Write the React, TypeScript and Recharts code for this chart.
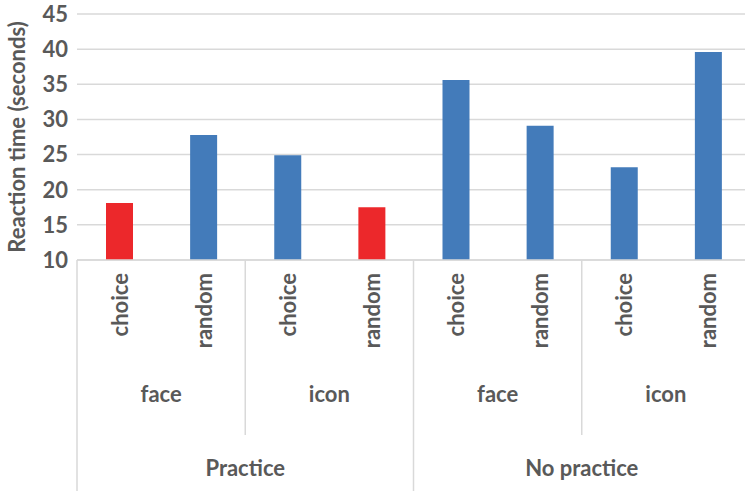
import { BarChart, Bar, XAxis, YAxis, CartesianGrid, Cell } from "recharts";

// bar order: practice/no practice -> face/icon -> choice/random
const conditions = ["choice", "random", "choice", "random", "choice", "random", "choice", "random"];
const stimuli = ["face", "icon", "face", "icon"];
const phases = ["Practice", "No practice"];
const reactionTimes = [18.1, 27.8, 24.9, 17.5, 35.6, 29.1, 23.2, 39.6];
const highlighted = [true, false, false, true, false, false, false, false];
const yTicks = [10, 15, 20, 25, 30, 35, 40, 45];

const data = reactionTimes.map((value, i) => ({ name: `${i}`, value, condition: conditions[i] }));

const TEXT = "#595959";
const LINE = "#d9d9d9";
const FONT = "Lato, 'Open Sans', sans-serif";

function GroupedTick(props: any) {
  const { x, y, payload } = props;
  const i: number = payload.index;
  const half: number = payload.offset ?? 42;
  const left = x - half;
  const bottom = 491;
  const textStyle = { fontFamily: FONT, fontWeight: 700, fontSize: 22, fill: TEXT };
  return (
    <g>
      <text
        x={x}
        y={y + 13}
        transform={`rotate(-90, ${x}, ${y + 13})`}
        textAnchor="end"
        dominantBaseline="central"
        style={textStyle}
      >
        {conditions[i]}
      </text>
      {i % 2 === 0 && (
        <>
          <line x1={left} x2={left} y1={y} y2={i % 4 === 0 ? bottom : y + 175} stroke={LINE} strokeWidth={1.5} />
          <text x={x + half} y={y + 142} textAnchor="middle" style={textStyle}>
            {stimuli[i / 2]}
          </text>
        </>
      )}
      {i % 4 === 0 && (
        <text x={x + 3 * half} y={y + 216} textAnchor="middle" style={textStyle}>
          {phases[i / 4]}
        </text>
      )}
    </g>
  );
}

export default function App() {
  return (
    <div style={{ position: "absolute", left: 0, top: 0, width: 745, height: 491, overflow: "hidden", background: "#fff" }}>
      <BarChart width={750} height={491} data={data} margin={{ top: 14, right: 0, bottom: 0, left: 0 }}>
        <CartesianGrid vertical={false} stroke={LINE} strokeWidth={1.5} />
        <XAxis
          dataKey="name"
          height={231}
          interval={0}
          tickLine={false}
          tickSize={0}
          tickMargin={0}
          axisLine={{ stroke: LINE, strokeWidth: 1.5 }}
          tick={<GroupedTick />}
        />
        <YAxis
          width={77}
          domain={[10, 45]}
          ticks={yTicks}
          interval={0}
          axisLine={false}
          tickLine={false}
          tickSize={0}
          tickMargin={9}
          tick={{ fontFamily: FONT, fontWeight: 700, fontSize: 22, fill: TEXT }}
          label={{
            value: "Reaction time (seconds)",
            angle: -90,
            position: "center",
            dx: -21,
            style: { fontFamily: FONT, fontWeight: 700, fontSize: 22, fill: TEXT },
          }}
        />
        <Bar dataKey="value" barSize={27} isAnimationActive={false}>
          {data.map((d, i) => (
            <Cell key={`cell-${i}`} fill={highlighted[i] ? "#ec282b" : "#437bba"} />
          ))}
        </Bar>
      </BarChart>
    </div>
  );
}
